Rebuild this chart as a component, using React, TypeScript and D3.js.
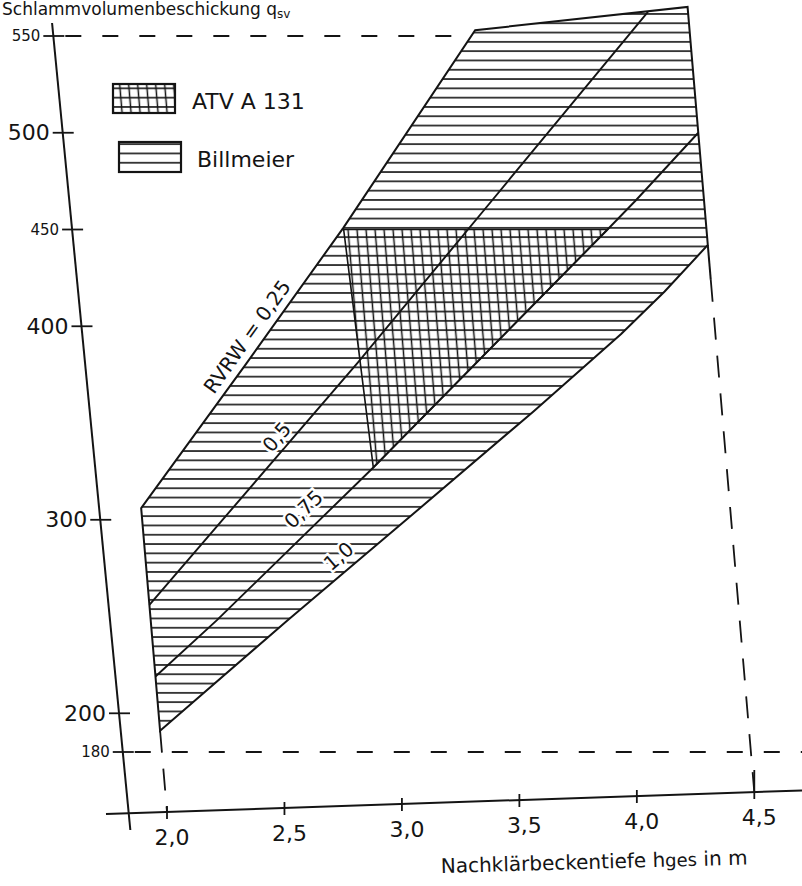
import React from "react";
import * as d3 from "d3";

// x: Nachklärbeckentiefe hges in m
const hgesTicks = [2.0, 2.5, 3.0, 3.5, 4.0, 4.5];
const hgesLabels = ["2,0", "2,5", "3,0", "3,5", "4,0", "4,5"];
// y: Schlammvolumenbeschickung qsv (large and small tick labels)
const qsvTicksLarge = [500, 400, 300, 200];
const qsvTicksSmall = [550, 450, 180];

// RVRW lines as [hges, qsv]
const rvrw025 = [[2.0, 306], [2.5, 381], [2.96, 451], [3.59, 553]];
const rvrw05 = [[2.0, 256], [2.97, 381], [3.6, 465], [4.33, 562.5]];
const rvrw075 = [[2.0, 219], [2.28, 248], [3.0, 327], [4.08, 450], [4.21, 465], [4.5, 500]];
const rvrw10 = [[2.0, 191], [2.58, 248], [3.09, 297], [3.7, 356], [4.1, 396], [4.3, 418], [4.5, 442]];
// upper limit of the Billmeier field
const topEdge = [[3.59, 553], [4.5, 565]];
// ATV A 131 field
const atvField = [[2.96, 450], [4.08, 450], [3.0, 327]];

// dashed guides
const qsvGuides = [550, 180];
const hgesGuides = [2.0, 4.5];

const lineLabels = [
  { text: "RVRW = 0,25", curve: rvrw025, h: 2.56, off: 15 },
  { text: "0,5", curve: rvrw05, h: 2.64, off: 13 },
  { text: "0,75", curve: rvrw075, h: 2.74, off: 19 },
  { text: "1,0", curve: rvrw10, h: 2.86, off: 16 },
];

const FONT = "'DejaVu Sans', sans-serif";
const INK = "#141414";

export default function App() {
  const W = 802;
  const H = 886;

  const x = d3.scaleLinear().domain([2.0, 4.5]).range([167, 756]);
  const y = d3.scaleLinear().domain([180, 550]).range([752, 36]);

  // the scan is sheared: verticals lean to the left towards the top
  const SHEAR = 0.085;
  const Y0 = 812;
  const AXIS_SHEAR = 0.097;
  const Y_AXIS_H = 1.837;
  const X_AXIS_SLOPE = -0.034;

  const px = (h, py) => x(h) + SHEAR * (py - Y0);
  const proj = (d) => [px(d[0], y(d[1])), y(d[1])];
  const path = d3.line().x((d) => proj(d)[0]).y((d) => proj(d)[1]);
  const rawPath = d3.line();
  const yAxisX = (py) => x(Y_AXIS_H) + AXIS_SHEAR * (py - Y0);
  const xAxisY = (xx) => Y0 + X_AXIS_SLOPE * (xx - x(2.0));

  const interp = (curve, h) => {
    for (let i = 0; i < curve.length - 1; i++) {
      const [h0, q0] = curve[i];
      const [h1, q1] = curve[i + 1];
      if (h >= h0 && h <= h1) return [h, q0 + ((h - h0) / (h1 - h0)) * (q1 - q0)];
    }
    return curve[curve.length - 1];
  };

  const billmeier = [...rvrw025, topEdge[1], ...rvrw10.slice().reverse()];
  const skewDeg = (Math.atan(SHEAR) * 180) / Math.PI;

  const dash = { stroke: INK, strokeWidth: 1.8, strokeDasharray: "16 21", fill: "none" };

  const allQ = [...qsvTicksLarge, ...qsvTicksSmall];

  return (
    <svg
      width={W}
      height={H}
      style={{ position: "absolute", left: 0, top: 0, background: "#fff" }}
      fontFamily={FONT}
    >
      <defs>
        <pattern id="hatchH" patternUnits="userSpaceOnUse" width={20} height={9.3}>
          <line x1={0} x2={20} y1={4.65} y2={4.65} stroke={INK} strokeWidth={1.6} />
        </pattern>
        <pattern
          id="hatchV"
          patternUnits="userSpaceOnUse"
          width={9}
          height={20}
          patternTransform={`skewX(${skewDeg})`}
        >
          <line x1={4.5} x2={4.5} y1={0} y2={20} stroke={INK} strokeWidth={1.5} />
        </pattern>
      </defs>

      {/* axis title at the top */}
      <text x={2} y={15} fontSize={17} fill={INK}>
        Schlammvolumenbeschickung q
        <tspan fontSize={12} dy={3}>sv</tspan>
      </text>

      {/* fields */}
      <path d={path(billmeier) + "Z"} fill="url(#hatchH)" stroke={INK} strokeWidth={2} />
      <path d={path(atvField) + "Z"} fill="url(#hatchV)" stroke={INK} strokeWidth={1.6} />
      <path d={path(rvrw05)} fill="none" stroke={INK} strokeWidth={1.9} />
      <path d={path(rvrw075)} fill="none" stroke={INK} strokeWidth={1.9} />
      <path d={path([[4.5, 442], [4.5, 424]])} fill="none" stroke={INK} strokeWidth={2} />

      {/* dashed guides */}
      {qsvGuides.map((q) => {
        const py = y(q);
        const x0 = yAxisX(py) + 12;
        const x1 = q === 550 ? px(topEdge[0][0] - 0.03, py) : W;
        return <path key={"gq" + q} d={rawPath([[x0, py], [x1, py]])} {...dash} />;
      })}
      {hgesGuides.map((h) => {
        const qStart = h === 2.0 ? rvrw10[0][1] : 424;
        const ay = xAxisY(x(h));
        return (
          <path
            key={"gh" + h}
            d={rawPath([proj([h, qStart]), [px(h, ay), ay]])}
            {...dash}
            strokeDasharray="22 16"
          />
        );
      })}

      {/* y axis */}
      <path d={rawPath([[yAxisX(23), 23], [yAxisX(830), 830]])} fill="none" stroke={INK} strokeWidth={2} />
      {allQ.map((q) => {
        const py = y(q);
        const ax = yAxisX(py);
        const big = qsvTicksLarge.includes(q);
        return (
          <g key={"yt" + q}>
            <line x1={ax - 10} x2={ax + 11} y1={py} y2={py} stroke={INK} strokeWidth={1.8} />
            <text
              x={ax - 13}
              y={py}
              textAnchor="end"
              dominantBaseline="central"
              fontSize={big ? 22 : 15}
              fill={INK}
            >
              {q}
            </text>
          </g>
        );
      })}

      {/* x axis */}
      <path d={rawPath([[106, xAxisY(106)], [W, xAxisY(W)]])} fill="none" stroke={INK} strokeWidth={2} />
      {hgesTicks.map((h, i) => {
        const ay = xAxisY(x(h));
        const xx = px(h, ay);
        const top = h === 4.5 ? 22 : 6;
        return (
          <g key={"xt" + h}>
            <line x1={xx} x2={xx} y1={ay - top} y2={ay + 7} stroke={INK} strokeWidth={1.8} />
            <text x={xx + 5} y={ay + 33} textAnchor="middle" fontSize={22} fill={INK}>
              {hgesLabels[i]}
            </text>
          </g>
        );
      })}
      <text x={441} y={873} fontSize={20} fill={INK} transform="rotate(-1.6 441 873)">
        Nachklärbeckentiefe h<tspan fontSize={18}>ges</tspan> in m
      </text>

      {/* line labels */}
      {lineLabels.map((l) => {
        const p = proj(interp(l.curve, l.h));
        const a = proj(interp(l.curve, l.h - 0.05));
        const b = proj(interp(l.curve, l.h + 0.05));
        const dx = b[0] - a[0];
        const dy = b[1] - a[1];
        const len = Math.hypot(dx, dy);
        const nx = dy / len;
        const ny = -dx / len;
        const cx = p[0] + nx * l.off;
        const cy = p[1] + ny * l.off;
        const ang = (Math.atan2(dy, dx) * 180) / Math.PI;
        return (
          <text
            key={l.text}
            x={cx}
            y={cy}
            textAnchor="middle"
            dominantBaseline="central"
            fontSize={20}
            fill={INK}
            stroke="#fff"
            strokeWidth={5}
            paintOrder="stroke"
            transform={`rotate(${ang} ${cx} ${cy})`}
          >
            {l.text}
          </text>
        );
      })}

      {/* legend */}
      <rect x={113} y={84} width={62} height={29} fill="url(#hatchH)" />
      <rect x={113} y={84} width={62} height={29} fill="url(#hatchV)" stroke={INK} strokeWidth={2.2} />
      <text x={192} y={109} fontSize={22} fill={INK}>ATV A 131</text>
      <rect x={119} y={142} width={62} height={30} fill="url(#hatchH)" stroke={INK} strokeWidth={2.2} />
      <text x={197} y={167} fontSize={22} fill={INK}>Billmeier</text>
    </svg>
  );
}
